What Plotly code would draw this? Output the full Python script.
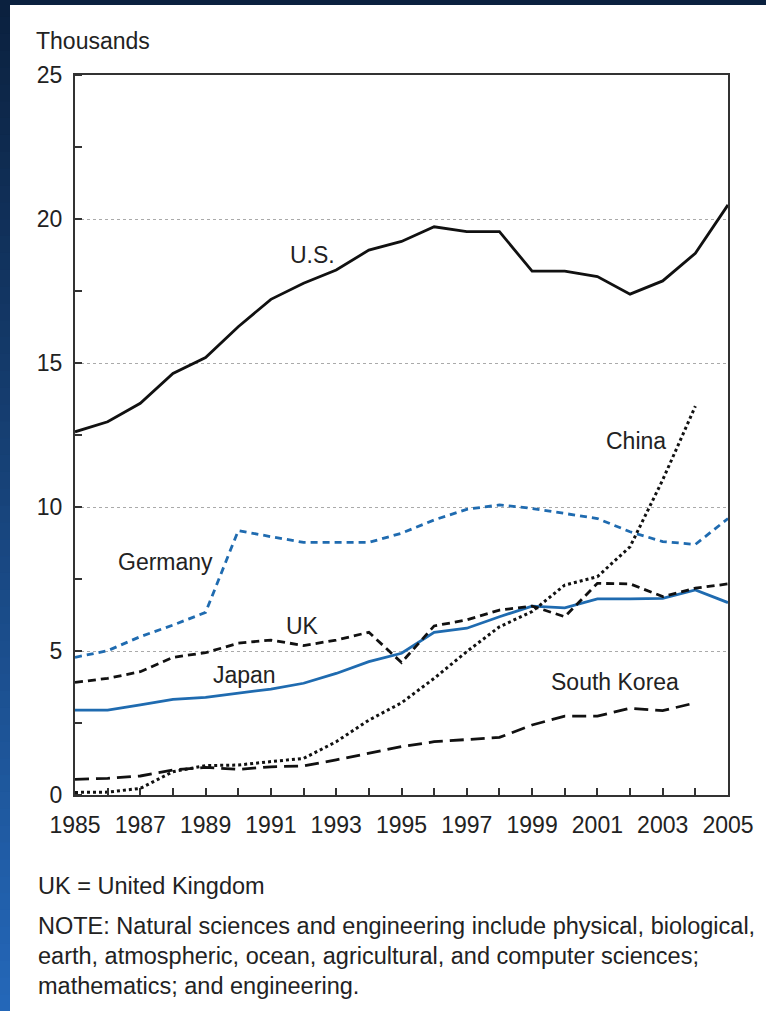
import plotly.graph_objects as go

years = list(range(1985, 2006))
us = [12.61, 12.96, 13.6, 14.64, 15.19, 16.26, 17.21, 17.77, 18.23, 18.92, 19.22,
      19.73, 19.56, 19.56, 18.19, 18.19, 18.0, 17.39, 17.85, 18.81, 20.49]
germany = [4.78, 5.01, 5.5, 5.9, 6.34, 9.18, 8.97, 8.77, 8.77, 8.77, 9.09,
           9.55, 9.92, 10.07, 9.95, 9.78, 9.6, 9.14, 8.8, 8.7, 9.6]
japan = [2.95, 2.95, 3.13, 3.32, 3.39, 3.53, 3.68, 3.88, 4.22, 4.63, 4.92,
         5.65, 5.79, 6.19, 6.56, 6.5, 6.81, 6.81, 6.83, 7.12, 6.68]
uk = [3.91, 4.05, 4.28, 4.78, 4.94, 5.27, 5.38, 5.19, 5.38, 5.65, 4.6,
      5.87, 6.08, 6.42, 6.56, 6.19, 7.35, 7.33, 6.89, 7.18, 7.33]
china_years = list(range(1985, 2005))
china = [0.09, 0.1, 0.23, 0.81, 1.02, 1.04, 1.16, 1.27, 1.85, 2.6, 3.2,
         4.05, 4.98, 5.84, 6.37, 7.29, 7.58, 8.62, 10.94, 13.5]
korea_years = list(range(1985, 2005))
korea = [0.54, 0.58, 0.66, 0.87, 0.96, 0.89, 0.98, 1.01, 1.22, 1.45, 1.68,
         1.85, 1.93, 2.0, 2.43, 2.74, 2.74, 3.01, 2.93, 3.2]

x_tick_vals = list(range(1985, 2006, 2))
y_tick_vals = [0, 5, 10, 15, 20, 25]

labels = [
    ("U.S.", 1992.26, 18.75),
    ("Germany", 1987.76, 8.09),
    ("UK", 1991.98, 5.87),
    ("Japan", 1990.2, 4.17),
    ("China", 2002.18, 12.29),
    ("South Korea", 2001.54, 3.92),
]

BLUE = "#1f6bb0"
FONT = "Liberation Sans, Arial, sans-serif"
FS = 23

W, H = 766, 1011
L, R, T, B = 75, 728, 75, 795

fig = go.Figure()
fig.add_trace(go.Scatter(x=years, y=us, mode="lines", line=dict(color="#111", width=2.8)))
fig.add_trace(go.Scatter(x=years, y=germany, mode="lines", line=dict(color=BLUE, width=2.8, dash="7px,5px")))
fig.add_trace(go.Scatter(x=years, y=japan, mode="lines", line=dict(color=BLUE, width=2.8)))
fig.add_trace(go.Scatter(x=years, y=uk, mode="lines", line=dict(color="#111", width=2.8, dash="8px,5px")))
fig.add_trace(go.Scatter(x=china_years, y=china, mode="lines", line=dict(color="#111", width=3, dash="dot")))
fig.add_trace(go.Scatter(x=korea_years, y=korea, mode="lines", line=dict(color="#111", width=2.8, dash="14px,7px")))

for text, x, y in labels:
    fig.add_annotation(x=x, y=y, text=text, showarrow=False, xref="x", yref="y",
                       font=dict(size=FS, color="#222", family=FONT))

def px2paper_x(px):
    return (px - L) / (R - L)

def py2paper_y(py):
    return (B - py) / (B - T)

shapes = []
# white panel on dark background
shapes.append(dict(type="rect", xref="paper", yref="paper", layer="below",
                   x0=px2paper_x(10), x1=px2paper_x(W + 5), y0=py2paper_y(H + 5), y1=py2paper_y(5),
                   fillcolor="white", line=dict(width=0)))
# left gradient strip
n = 60
c0 = (11, 33, 63)
c1 = (36, 103, 184)
for i in range(n):
    t = i / (n - 1)
    c = tuple(int(round(c0[k] + (c1[k] - c0[k]) * t)) for k in range(3))
    y0 = H * i / n
    y1 = H * (i + 1) / n + 1
    shapes.append(dict(type="rect", xref="paper", yref="paper", layer="below",
                       x0=px2paper_x(-2), x1=px2paper_x(10), y0=py2paper_y(y1), y1=py2paper_y(y0),
                       fillcolor="rgb(%d,%d,%d)" % c, line=dict(width=0)))

fig.update_layout(
    width=W, height=H,
    margin=dict(l=L, r=W - R, t=T, b=H - B),
    paper_bgcolor="#0b213f",
    plot_bgcolor="white",
    showlegend=False,
    font=dict(family=FONT, size=FS, color="#222"),
    shapes=shapes,
)

fig.update_xaxes(range=[1985, 2005], tickmode="array", tickvals=x_tick_vals,
                 ticktext=[str(v) for v in x_tick_vals],
                 showgrid=False, zeroline=False, showline=True, linecolor="#333", linewidth=2,
                 mirror=True, ticks="inside", ticklen=7, tickcolor="#333", tickwidth=1.5,
                 ticklabelstandoff=8,
                 minor=dict(ticks="inside", ticklen=7, tickcolor="#333", dtick=1, tick0=1985, tickwidth=1.5),
                 tickfont=dict(size=FS, family=FONT, color="#222"))
fig.update_yaxes(range=[0, 25], tickmode="array", tickvals=y_tick_vals,
                 showgrid=True, gridcolor="#aaa", griddash="dot", gridwidth=1,
                 zeroline=False, showline=True, linecolor="#333", linewidth=2, mirror=True,
                 ticks="", ticklabelstandoff=6,
                 minor=dict(ticks="inside", ticklen=7, tickcolor="#333", dtick=2.5, tick0=0,
                            tickwidth=1.5, showgrid=False),
                 tickfont=dict(size=FS, family=FONT, color="#222"))

fig.add_annotation(xref="paper", yref="paper", x=px2paper_x(34), y=py2paper_y(41), xanchor="left",
                   yanchor="middle", text="Thousands", showarrow=False, font=dict(size=FS, family=FONT, color="#222"))
fig.add_annotation(xref="paper", yref="paper", x=px2paper_x(36), y=py2paper_y(886), xanchor="left",
                   yanchor="middle", text="UK = United Kingdom", showarrow=False, font=dict(size=23.5, family=FONT, color="#222"))
note_lines = [
    "NOTE: Natural sciences and engineering include physical, biological,",
    "earth, atmospheric, ocean, agricultural, and computer sciences;",
    "mathematics; and engineering.",
]
for i, line in enumerate(note_lines):
    fig.add_annotation(xref="paper", yref="paper", x=px2paper_x(36), y=py2paper_y(926 + 30 * i), xanchor="left",
                       yanchor="middle", text=line, showarrow=False, font=dict(size=23.5, family=FONT, color="#222"))

fig.write_html("out.html",
               config={"displayModeBar": False},
               post_script="document.body.style.margin='0';document.body.style.overflow='hidden';"
                           "document.body.style.background='#0b213f';")
